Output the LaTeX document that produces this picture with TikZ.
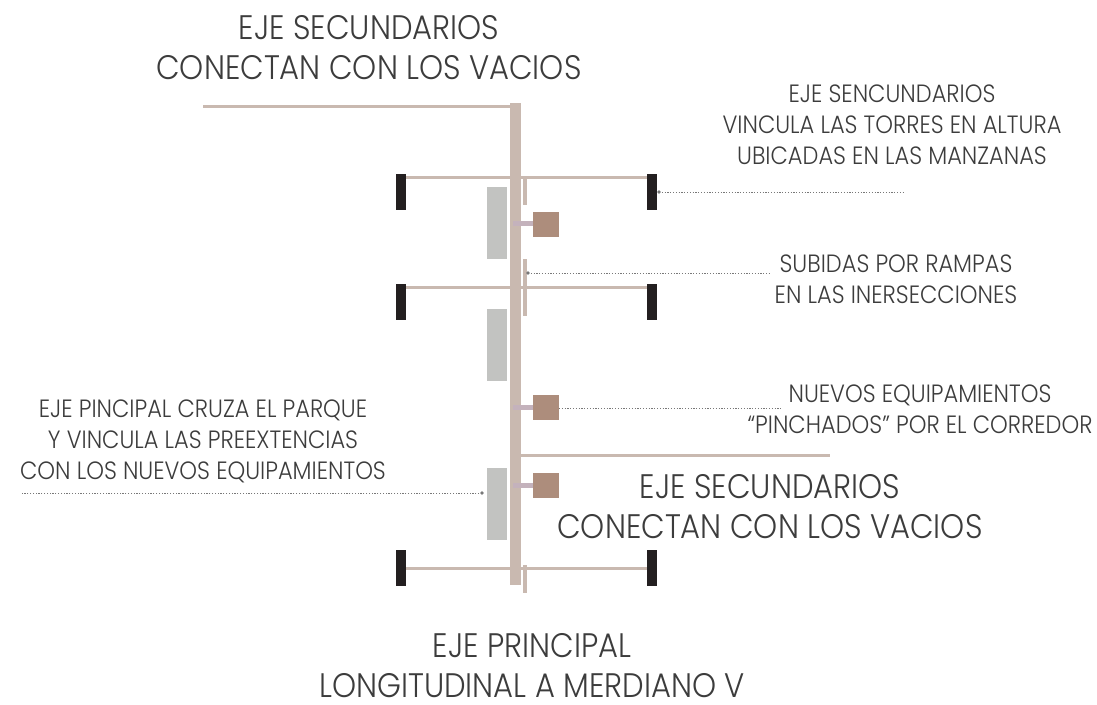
\documentclass[tikz,border=0pt]{standalone}
\usepackage{fontspec}
\setmainfont{Poppins}[UprightFont=* Light, FakeStretch=0.9]
\definecolor{axisc}{RGB}{201,185,176}
\definecolor{towerc}{RGB}{35,31,32}
\definecolor{parkc}{RGB}{194,195,193}
\definecolor{equipc}{RGB}{173,141,124}
\definecolor{pinc}{RGB}{196,178,188}
\definecolor{leaderc}{RGB}{120,120,120}
\definecolor{txtc}{RGB}{60,60,60}
\begin{document}
\begin{tikzpicture}[x=1pt,y=-1pt,
  axisline/.style={draw=axisc, line width=3pt},
  axisbar/.style={fill=axisc},
  towerbar/.style={fill=towerc},
  parkbox/.style={fill=parkc},
  equipbox/.style={fill=equipc},
  pinbar/.style={fill=pinc},
  leader/.style={draw=leaderc, line width=0.8pt, dash pattern=on 1.2pt off 1.6pt},
  leaderdot/.style={fill=leaderc},
  bigtext/.style={text=txtc, align=center, inner sep=0pt, font=\fontsize{34}{40}\selectfont},
  smalltext/.style={text=txtc, align=center, inner sep=0pt, font=\fontsize{25}{31}\selectfont}]
\useasboundingbox (0,0) rectangle (1097,704);
\fill[white] (0,0) rectangle (1097,704);

% horizontal axes
\draw[axisline] (203,106) -- (512,106);
\draw[axisline] (406,177) -- (647,177);
\draw[axisline] (406,287) -- (647,287);
\draw[axisline] (406,568) -- (647,568);
\draw[axisline] (520,455) -- (830,455);

% main axis and ramps
\fill[axisbar] (510,103) rectangle (521,585);
\fill[axisbar] (522.5,177) rectangle (527,205);
\fill[axisbar] (522.5,259) rectangle (527,316);
\fill[axisbar] (522.5,565) rectangle (527,593);

% park blocks
\fill[parkbox] (487,187) rectangle (507,259);
\fill[parkbox] (487,309) rectangle (507,381);
\fill[parkbox] (487,468) rectangle (507,540);

% equipment
\fill[pinbar] (513,221) rectangle (543,226);
\fill[equipbox] (533,212) rectangle (559,237);
\fill[pinbar] (513,405) rectangle (543,410);
\fill[equipbox] (533,395) rectangle (559,420);
\fill[pinbar] (513,483) rectangle (543,488);
\fill[equipbox] (533,473) rectangle (559,498);

% towers
\foreach \y in {174,284,550}{
  \fill[towerbar] (396,\y) rectangle (406,\y+36);
  \fill[towerbar] (647,\y) rectangle (657,\y+36);
}

% texts
\node[bigtext] (t1) at (369,48) {EJE SECUNDARIOS\\CONECTAN CON LOS VACIOS};
\node[smalltext] (t2) at (892,124.5) {EJE SENCUNDARIOS\\VINCULA LAS TORRES EN ALTURA\\UBICADAS EN LAS MANZANAS};
\node[smalltext] (t3) at (896,279.5) {SUBIDAS POR RAMPAS\\EN LAS INERSECCIONES};
\node[smalltext] (t4) at (920,409.5) {NUEVOS EQUIPAMIENTOS\\“PINCHADOS” POR EL CORREDOR};
\node[smalltext] (t5) at (203,441.5) {EJE PINCIPAL CRUZA EL PARQUE\\Y VINCULA LAS PREEXTENCIAS\\CON LOS NUEVOS EQUIPAMIENTOS};
\node[bigtext] (t6) at (770,507) {EJE SECUNDARIOS\\CONECTAN CON LOS VACIOS};
\node[bigtext] (t7) at (532,666) {EJE PRINCIPAL\\LONGITUDINAL A MERDIANO V};

% leaders
\coordinate (d1) at (659,192);
\coordinate (e1) at (903,192);
\coordinate (d2) at (528,273);
\coordinate (e2) at (770,273);
\coordinate (d3) at (559,408);
\coordinate (e3) at (782,408);
\coordinate (d4) at (482,493);
\coordinate (e4) at (22,493);
\draw[leader] (d1) -- (e1);
\draw[leader] (d2) -- (e2);
\draw[leader] (d3) -- (e3);
\draw[leader] (d4) -- (e4);
\fill[leaderdot] (d1) circle (1.8pt);
\fill[leaderdot] (d2) circle (1.8pt);
\fill[leaderdot] (d4) circle (1.8pt);
\end{tikzpicture}
\end{document}
